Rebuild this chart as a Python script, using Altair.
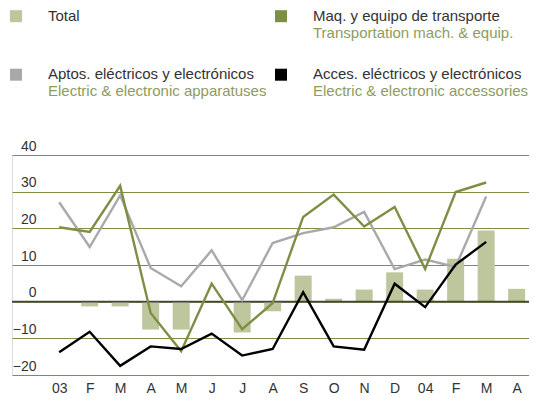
import json
import altair as alt
import pandas as pd

# ---- data ----
months = ["03", "F", "M", "A", "M", "J", "J", "A", "S", "O", "N", "D", "04", "F", "M", "A"]
total = [0, -1.3, -1.3, -7.6, -7.6, 0, -8.4, -2.6, 7.1, 0.8, 3.3, 8.0, 3.3, 11.7, 19.4, 3.5]
maq = [20.3, 19.0, 31.6, -3.1, -13.5, 4.9, -7.5, -0.4, 23.1, 29.2, 20.5, 25.8, 8.9, 29.9, 32.5, None]
aptos = [27.1, 14.9, 29.0, 9.2, 4.2, 14.0, 0.4, 16.0, 18.7, 20.3, 24.5, 8.9, 11.5, 9.5, 28.7, None]
acces = [-13.8, -8.2, -17.5, -12.2, -12.9, -8.7, -14.7, -12.9, 2.6, -12.2, -13.1, 4.9, -1.5, 10.1, 16.3, None]
y_ticks = [-20, -10, 0, 10, 20, 30, 40]

legend_main = ["Total", "Maq. y equipo de transporte",
               "Aptos. eléctricos y electrónicos", "Acces. eléctricos y electrónicos"]
legend_sub = ["", "Transportation mach. & equip.",
              "Electric & electronic apparatuses", "Electric & electronic accessories"]

# ---- styles ----
C_BAR = "#bdc69c"
C_MAQ = "#7d8f44"
C_APT = "#a9a9ab"
C_ACC = "#000000"
C_GRID = "#7f8f48"
C_TEXT = "#333333"
C_SUB = "#8e9c5c"
FONT = "Liberation Sans"

idx = list(range(len(months)))
bars_df = pd.DataFrame({"i": idx, "v": total})

def series_df(vals):
    return pd.DataFrame({"i": idx, "v": vals}).dropna()

x_scale = alt.Scale(domain=[-1.3826, 15.241], nice=False, zero=False)
y_scale = alt.Scale(domain=[-20, 40], nice=False, zero=False)

label_expr = json.dumps(months) + "[datum.value]"

x_axis = alt.Axis(values=idx, labelExpr=label_expr, grid=False, domain=False, ticks=False,
                  tickSize=0, labelPadding=6, labelFontSize=14, labelColor=C_TEXT,
                  labelFont=FONT, labelFlush=False, labelOverlap=False, title=None)
y_axis = alt.Axis(values=y_ticks, grid=True, gridColor=C_GRID, gridWidth=1, gridOpacity=1,
                  domain=False, ticks=False, tickSize=0, labelAlign="right", labelPadding=-24,
                  labelBaseline="alphabetic", labelOffset=-5, labelFontSize=14,
                  labelOverlap=False, labelColor=C_TEXT, labelFont=FONT, title=None)

X = alt.X("i:Q", scale=x_scale, axis=x_axis)
Y = alt.Y("v:Q", scale=y_scale, axis=y_axis)

bars = alt.Chart(bars_df).mark_bar(size=17, color=C_BAR).encode(x=X, y=Y)

zero = alt.Chart(pd.DataFrame({"v": [0]})).mark_rule(color="#444444", strokeWidth=1.6).encode(y=Y)

def line(vals, color):
    return alt.Chart(series_df(vals)).mark_line(color=color, strokeWidth=2.4).encode(x=X, y=Y)

# ---- legend (annotation) ----
PX0, PY0 = 12, 155.3  # page position of plot origin
def px(x):
    return x - PX0
def py(y):
    return y - PY0

legend_layers = []
legend_spec = [
    (C_BAR, 16, 16.5, 48, 16, 33),
    (C_MAQ, 281, 16.5, 313, 16, 33),
    (C_APT, 16, 75, 48, 74, 91),
    (C_ACC, 281, 75, 313, 74, 91),
]
one = pd.DataFrame({"a": [0]})
for k, (col, sx, sy, tx, ty, sty) in enumerate(legend_spec):
    legend_layers.append(
        alt.Chart(one).mark_square(size=144, color=col, opacity=1).encode(
            x=alt.value(px(sx)), y=alt.value(py(sy)))
    )
    legend_layers.append(
        alt.Chart(one).mark_text(text=legend_main[k], align="left", baseline="middle",
                                 fontSize=15, font=FONT, color=C_TEXT).encode(
            x=alt.value(px(tx)), y=alt.value(py(ty)))
    )
    if legend_sub[k]:
        legend_layers.append(
            alt.Chart(one).mark_text(text=legend_sub[k], align="left", baseline="middle",
                                     fontSize=15, font=FONT, color=C_SUB).encode(
                x=alt.value(px(tx)), y=alt.value(py(sty)))
        )

chart = alt.layer(
    bars, zero,
    line(aptos, C_APT), line(maq, C_MAQ), line(acces, C_ACC),
    *legend_layers,
).properties(
    width=517, height=220,
    padding={"left": 4, "top": 147, "right": 0, "bottom": 21},
    autosize=alt.AutoSizeParams(type="none"),
).configure_view(stroke=None).configure(background="white")

chart.save("out.html", embed_options={"renderer": "svg", "actions": False})
